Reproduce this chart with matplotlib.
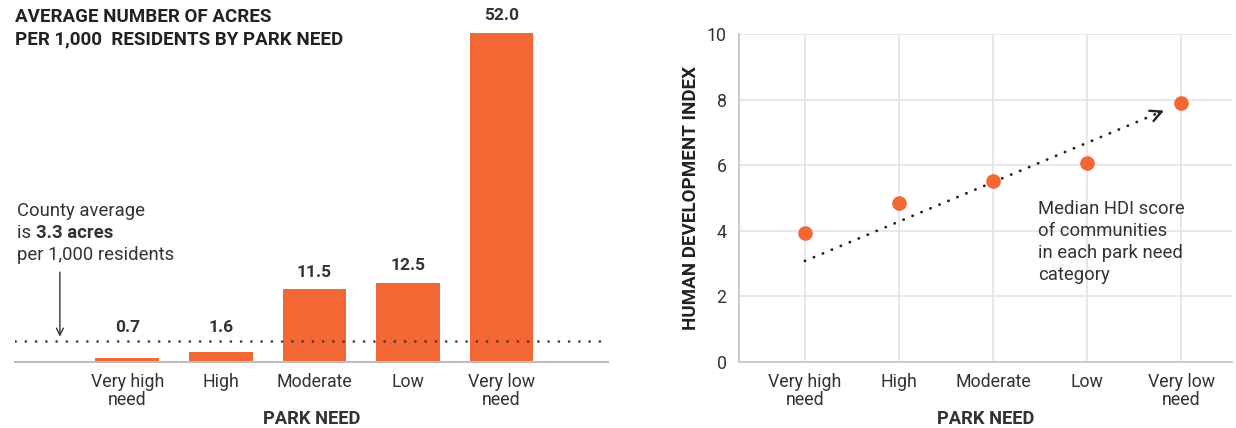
import matplotlib
matplotlib.use("Agg")
import matplotlib.pyplot as plt

plt.rcParams['font.family'] = ['Roboto', 'DejaVu Sans']

categories = ["Very high\nneed", "High", "Moderate", "Low", "Very low\nneed"]
acres = [0.7, 1.6, 11.5, 12.5, 52.0]
county_avg = 3.3
hdi = [3.93, 4.85, 5.52, 6.07, 7.9]
hdi_ticks = [0, 2, 4, 6, 8, 10]

ORANGE = '#f26734'
TXT = '#333333'
TICKFS = 12.8

fig = plt.figure(figsize=(12.36, 4.28), dpi=100)

# ---------- left chart ----------
ax1 = fig.add_axes([15/1236, 66/428, 593/1236, 342/428])
x = list(range(len(categories)))
ax1.bar(x, acres, width=0.68, color=ORANGE, zorder=2)
for xi, v in zip(x, acres):
    base = max(v, county_avg)
    off = 14 if v < county_avg else 17
    ax1.annotate(f"{v:.1f}", xy=(xi, base), xytext=(0, off * 0.72),
                 textcoords='offset points', ha='center', va='center',
                 fontsize=12.5, fontweight='bold', color=TXT)
ax1.set_xlim(-1.2, 5.14)
ax1.set_ylim(0, 54)
ax1.axhline(county_avg, color=TXT, linestyle=(0, (0.1, 4.0)), linewidth=1.8,
            dash_capstyle='round', zorder=3)
for s in ['top', 'right', 'left']:
    ax1.spines[s].set_visible(False)
ax1.spines['bottom'].set_color('#bdbdbd')
ax1.spines['bottom'].set_linewidth(1.5)
ax1.set_yticks([])
ax1.set_xticks(x)
ax1.set_xticklabels(categories, fontsize=TICKFS, color=TXT, linespacing=1.0)
ax1.tick_params(axis='x', length=0, pad=8)
ax1.set_xlabel("PARK NEED", fontsize=13.2, fontweight='bold', color=TXT, labelpad=1)

fig.text(15/1236, 1 - 8/428,
         "AVERAGE NUMBER OF ACRES\nPER 1,000  RESIDENTS BY PARK NEED",
         ha='left', va='top', fontsize=13.5, fontweight='bold', color='#222222',
         linespacing=1.3)

# county average annotation
ann_x = 17/1236
AFS = 13.3
fig.text(ann_x, 1 - 211/428, "County average", ha='left', va='center', fontsize=AFS, color=TXT)
t_is = fig.text(ann_x, 1 - 233/428, "is ", ha='left', va='center', fontsize=AFS, color=TXT)
fig.text(ann_x, 1 - 255/428, "per 1,000 residents", ha='left', va='center', fontsize=AFS, color=TXT)
fig.canvas.draw()
r = fig.canvas.get_renderer()
bb = t_is.get_window_extent(renderer=r)
fig.text(bb.x1 / fig.bbox.width, 1 - 233/428, "3.3 acres", ha='left', va='center',
         fontsize=AFS, fontweight='bold', color=TXT)
ax1.annotate("", xy=(-0.72, county_avg + 0.7), xytext=(-0.72, 14.2),
             arrowprops=dict(arrowstyle='->,head_length=0.5,head_width=0.25',
                             color=TXT, lw=1.0, shrinkA=0, shrinkB=0))

# ---------- right chart ----------
ax2 = fig.add_axes([739/1236, 66/428, 493/1236, 328/428])
ax2.set_xlim(-0.70, 4.54)
ax2.set_ylim(0, 10)
ax2.set_yticks(hdi_ticks)
ax2.set_xticks(x)
ax2.set_xticklabels(categories, fontsize=TICKFS, color=TXT, linespacing=1.0)
ax2.set_yticklabels([str(t) for t in hdi_ticks], fontsize=TICKFS, color=TXT)
ax2.tick_params(axis='both', length=0)
ax2.tick_params(axis='x', pad=8)
ax2.tick_params(axis='y', pad=9)
ax2.grid(True, color='#e6e6e6', linewidth=1.3, zorder=0)
for s in ['top', 'right']:
    ax2.spines[s].set_visible(False)
for s in ['left', 'bottom']:
    ax2.spines[s].set_color('#c8c8c8')
    ax2.spines[s].set_linewidth(1.3)
ax2.plot(x, hdi, 'o', color=ORANGE, markersize=9.5, zorder=4, clip_on=False)

# dotted trend arrow
x0, y0, x1, y1 = 0.0, 3.08, 3.78, 7.62
ax2.plot([x0, x1], [y0, y1], color='#222222', lw=2.0,
         linestyle=(0, (0.1, 3.4)), dash_capstyle='round', zorder=3)
dx, dy = (x1 - x0), (y1 - y0)
ax2.annotate("", xy=(x1 + 0.01 * dx, y1 + 0.01 * dy), xytext=(x1 - 0.005 * dx, y1 - 0.005 * dy),
             arrowprops=dict(arrowstyle='->,head_length=0.8,head_width=0.4',
                             color='#222222', lw=1.7,
                             shrinkA=0, shrinkB=0))
ax2.text(2.48, 4.95, "Median HDI score\nof communities\nin each park need\ncategory",
         ha='left', va='top', fontsize=AFS, color=TXT, linespacing=1.3)
ax2.set_ylabel("HUMAN DEVELOPMENT INDEX", fontsize=13.5, fontweight='bold', color='#222222',
               labelpad=5)
ax2.set_xlabel("PARK NEED", fontsize=13.2, fontweight='bold', color=TXT, labelpad=1)

fig.savefig("out.png", dpi=100)
